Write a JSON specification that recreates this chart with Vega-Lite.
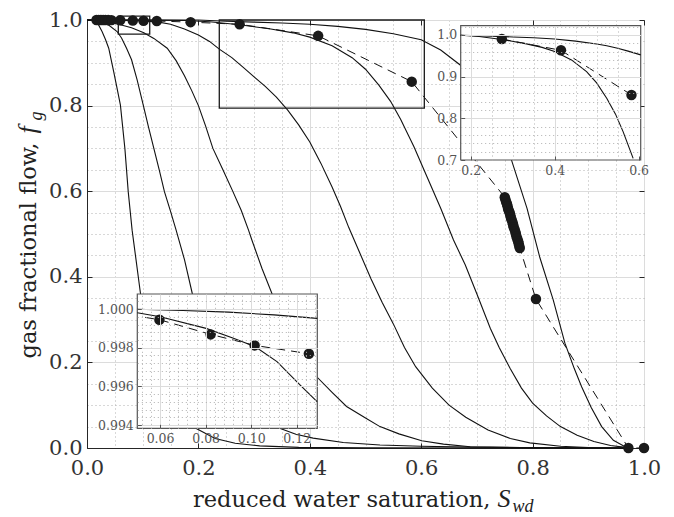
{
  "$schema": "https://vega.github.io/schema/vega-lite/v6.json",
  "width": 557,
  "height": 428,
  "autosize": "none",
  "padding": {"left": 87, "top": 20, "right": 30, "bottom": 69},
  "background": "white",
  "config": {
    "view": {"stroke": "#262626", "strokeWidth": 1},
    "font": "DejaVu Serif",
    "axis": {
      "labelFont": "DejaVu Serif",
      "titleFont": "DejaVu Serif",
      "labelColor": "#333333",
      "titleColor": "#222222",
      "titleFontWeight": "normal",
      "domainColor": "#262626",
      "tickColor": "#262626",
      "gridColor": "#dcdcdc",
      "gridWidth": 1,
      "labelOverlap": false,
      "labelFlush": false
    }
  },
  "datasets": {
    "curves": [
      {"c": "A", "x": 0, "y": 1}, {"c": "A", "x": 0.008, "y": 0.9995}, {"c": "A", "x": 0.015, "y": 0.996}, {"c": "A", "x": 0.021, "y": 0.988}, {"c": "A", "x": 0.027, "y": 0.973}, {"c": "A", "x": 0.033, "y": 0.955}, {"c": "A", "x": 0.039, "y": 0.934}, {"c": "A", "x": 0.048, "y": 0.879}, {"c": "A", "x": 0.054, "y": 0.84}, {"c": "A", "x": 0.06, "y": 0.801}, {"c": "A", "x": 0.068, "y": 0.7}, {"c": "A", "x": 0.074, "y": 0.599}, {"c": "A", "x": 0.081, "y": 0.509}, {"c": "A", "x": 0.088, "y": 0.44}, {"c": "A", "x": 0.096, "y": 0.361}, {"c": "A", "x": 0.11, "y": 0.26}, {"c": "A", "x": 0.13, "y": 0.17}, {"c": "A", "x": 0.155, "y": 0.1}, {"c": "A", "x": 0.175, "y": 0.068}, {"c": "A", "x": 0.197, "y": 0.045}, {"c": "A", "x": 0.23, "y": 0.022}, {"c": "A", "x": 0.266, "y": 0.011}, {"c": "A", "x": 0.31, "y": 0.005}, {"c": "A", "x": 0.38, "y": 0.0015}, {"c": "A", "x": 0.5, "y": 0.0003}, {"c": "A", "x": 0.975, "y": 0},
      {"c": "B", "x": 0, "y": 1}, {"c": "B", "x": 0.01, "y": 0.9995}, {"c": "B", "x": 0.02, "y": 0.998}, {"c": "B", "x": 0.03, "y": 0.993}, {"c": "B", "x": 0.04, "y": 0.987}, {"c": "B", "x": 0.054, "y": 0.973}, {"c": "B", "x": 0.062, "y": 0.958}, {"c": "B", "x": 0.071, "y": 0.934}, {"c": "B", "x": 0.08, "y": 0.907}, {"c": "B", "x": 0.09, "y": 0.86}, {"c": "B", "x": 0.101, "y": 0.801}, {"c": "B", "x": 0.11, "y": 0.752}, {"c": "B", "x": 0.12, "y": 0.7}, {"c": "B", "x": 0.13, "y": 0.648}, {"c": "B", "x": 0.139, "y": 0.599}, {"c": "B", "x": 0.15, "y": 0.553}, {"c": "B", "x": 0.16, "y": 0.509}, {"c": "B", "x": 0.175, "y": 0.44}, {"c": "B", "x": 0.189, "y": 0.361}, {"c": "B", "x": 0.22, "y": 0.26}, {"c": "B", "x": 0.26, "y": 0.16}, {"c": "B", "x": 0.3, "y": 0.095}, {"c": "B", "x": 0.346, "y": 0.046}, {"c": "B", "x": 0.375, "y": 0.032}, {"c": "B", "x": 0.406, "y": 0.023}, {"c": "B", "x": 0.46, "y": 0.013}, {"c": "B", "x": 0.526, "y": 0.007}, {"c": "B", "x": 0.6, "y": 0.004}, {"c": "B", "x": 0.688, "y": 0.002}, {"c": "B", "x": 0.8, "y": 0.0008}, {"c": "B", "x": 0.975, "y": 0},
      {"c": "C", "x": 0, "y": 1}, {"c": "C", "x": 0.02, "y": 0.999}, {"c": "C", "x": 0.04, "y": 0.995}, {"c": "C", "x": 0.06, "y": 0.989}, {"c": "C", "x": 0.08, "y": 0.982}, {"c": "C", "x": 0.102, "y": 0.97}, {"c": "C", "x": 0.12, "y": 0.957}, {"c": "C", "x": 0.144, "y": 0.934}, {"c": "C", "x": 0.16, "y": 0.905}, {"c": "C", "x": 0.175, "y": 0.87}, {"c": "C", "x": 0.188, "y": 0.835}, {"c": "C", "x": 0.2, "y": 0.8}, {"c": "C", "x": 0.213, "y": 0.752}, {"c": "C", "x": 0.226, "y": 0.7}, {"c": "C", "x": 0.244, "y": 0.65}, {"c": "C", "x": 0.262, "y": 0.599}, {"c": "C", "x": 0.277, "y": 0.555}, {"c": "C", "x": 0.29, "y": 0.509}, {"c": "C", "x": 0.296, "y": 0.486}, {"c": "C", "x": 0.314, "y": 0.42}, {"c": "C", "x": 0.332, "y": 0.361}, {"c": "C", "x": 0.37, "y": 0.26}, {"c": "C", "x": 0.412, "y": 0.167}, {"c": "C", "x": 0.44, "y": 0.13}, {"c": "C", "x": 0.466, "y": 0.097}, {"c": "C", "x": 0.5, "y": 0.07}, {"c": "C", "x": 0.526, "y": 0.05}, {"c": "C", "x": 0.56, "y": 0.033}, {"c": "C", "x": 0.601, "y": 0.017}, {"c": "C", "x": 0.64, "y": 0.009}, {"c": "C", "x": 0.688, "y": 0.003}, {"c": "C", "x": 0.8, "y": 0.0007}, {"c": "C", "x": 0.975, "y": 0},
      {"c": "D", "x": 0, "y": 1}, {"c": "D", "x": 0.05, "y": 0.9995}, {"c": "D", "x": 0.1, "y": 0.998}, {"c": "D", "x": 0.129, "y": 0.995}, {"c": "D", "x": 0.15, "y": 0.99}, {"c": "D", "x": 0.175, "y": 0.979}, {"c": "D", "x": 0.2, "y": 0.965}, {"c": "D", "x": 0.22, "y": 0.95}, {"c": "D", "x": 0.2375, "y": 0.932}, {"c": "D", "x": 0.26, "y": 0.912}, {"c": "D", "x": 0.28, "y": 0.89}, {"c": "D", "x": 0.3, "y": 0.867}, {"c": "D", "x": 0.32, "y": 0.845}, {"c": "D", "x": 0.34, "y": 0.82}, {"c": "D", "x": 0.36, "y": 0.79}, {"c": "D", "x": 0.38, "y": 0.755}, {"c": "D", "x": 0.4, "y": 0.715}, {"c": "D", "x": 0.42, "y": 0.665}, {"c": "D", "x": 0.44, "y": 0.61}, {"c": "D", "x": 0.455, "y": 0.565}, {"c": "D", "x": 0.47, "y": 0.515}, {"c": "D", "x": 0.49, "y": 0.455}, {"c": "D", "x": 0.51, "y": 0.395}, {"c": "D", "x": 0.53, "y": 0.34}, {"c": "D", "x": 0.55, "y": 0.29}, {"c": "D", "x": 0.57, "y": 0.235}, {"c": "D", "x": 0.59, "y": 0.19}, {"c": "D", "x": 0.62, "y": 0.14}, {"c": "D", "x": 0.65, "y": 0.1}, {"c": "D", "x": 0.68, "y": 0.072}, {"c": "D", "x": 0.72, "y": 0.042}, {"c": "D", "x": 0.76, "y": 0.022}, {"c": "D", "x": 0.795, "y": 0.012}, {"c": "D", "x": 0.85, "y": 0.004}, {"c": "D", "x": 0.9, "y": 0.001}, {"c": "D", "x": 0.975, "y": 0},
      {"c": "E", "x": 0, "y": 1}, {"c": "E", "x": 0.1, "y": 0.9998}, {"c": "E", "x": 0.176, "y": 0.999}, {"c": "E", "x": 0.22, "y": 0.996}, {"c": "E", "x": 0.274, "y": 0.989}, {"c": "E", "x": 0.33, "y": 0.979}, {"c": "E", "x": 0.37, "y": 0.97}, {"c": "E", "x": 0.4, "y": 0.96}, {"c": "E", "x": 0.44, "y": 0.94}, {"c": "E", "x": 0.476, "y": 0.912}, {"c": "E", "x": 0.5, "y": 0.885}, {"c": "E", "x": 0.524, "y": 0.848}, {"c": "E", "x": 0.545, "y": 0.81}, {"c": "E", "x": 0.563, "y": 0.768}, {"c": "E", "x": 0.587, "y": 0.704}, {"c": "E", "x": 0.61, "y": 0.635}, {"c": "E", "x": 0.635, "y": 0.56}, {"c": "E", "x": 0.658, "y": 0.486}, {"c": "E", "x": 0.679, "y": 0.428}, {"c": "E", "x": 0.7, "y": 0.36}, {"c": "E", "x": 0.724, "y": 0.28}, {"c": "E", "x": 0.74, "y": 0.235}, {"c": "E", "x": 0.76, "y": 0.185}, {"c": "E", "x": 0.78, "y": 0.14}, {"c": "E", "x": 0.8, "y": 0.105}, {"c": "E", "x": 0.825, "y": 0.075}, {"c": "E", "x": 0.85, "y": 0.05}, {"c": "E", "x": 0.88, "y": 0.03}, {"c": "E", "x": 0.91, "y": 0.015}, {"c": "E", "x": 0.94, "y": 0.006}, {"c": "E", "x": 0.963, "y": 0.002}, {"c": "E", "x": 0.975, "y": 0},
      {"c": "F", "x": 0, "y": 1}, {"c": "F", "x": 0.2, "y": 0.9999}, {"c": "F", "x": 0.25, "y": 0.997}, {"c": "F", "x": 0.3, "y": 0.995}, {"c": "F", "x": 0.35, "y": 0.993}, {"c": "F", "x": 0.4, "y": 0.99}, {"c": "F", "x": 0.45, "y": 0.985}, {"c": "F", "x": 0.5, "y": 0.978}, {"c": "F", "x": 0.55, "y": 0.968}, {"c": "F", "x": 0.6, "y": 0.954}, {"c": "F", "x": 0.635, "y": 0.93}, {"c": "F", "x": 0.67, "y": 0.895}, {"c": "F", "x": 0.7, "y": 0.84}, {"c": "F", "x": 0.73, "y": 0.77}, {"c": "F", "x": 0.762, "y": 0.673}, {"c": "F", "x": 0.79, "y": 0.56}, {"c": "F", "x": 0.813, "y": 0.445}, {"c": "F", "x": 0.837, "y": 0.346}, {"c": "F", "x": 0.858, "y": 0.245}, {"c": "F", "x": 0.875, "y": 0.185}, {"c": "F", "x": 0.888, "y": 0.143}, {"c": "F", "x": 0.905, "y": 0.095}, {"c": "F", "x": 0.924, "y": 0.05}, {"c": "F", "x": 0.945, "y": 0.018}, {"c": "F", "x": 0.966, "y": 0.003}, {"c": "F", "x": 0.975, "y": 0}
    ],
    "path": [
      {"x": 0.017, "y": 1.0}, {"x": 0.021, "y": 1.0}, {"x": 0.025, "y": 1.0}, {"x": 0.029, "y": 0.9999}, {"x": 0.033, "y": 0.9999}, {"x": 0.038, "y": 0.9998}, {"x": 0.044, "y": 0.9997},
      {"x": 0.0597, "y": 0.99945}, {"x": 0.0822, "y": 0.99869}, {"x": 0.1015, "y": 0.99812}, {"x": 0.1253, "y": 0.99769},
      {"x": 0.186, "y": 0.995}, {"x": 0.274, "y": 0.99}, {"x": 0.415, "y": 0.963}, {"x": 0.583, "y": 0.856},
      {"x": 0.75, "y": 0.586}, {"x": 0.751, "y": 0.581}, {"x": 0.7525, "y": 0.575}, {"x": 0.754, "y": 0.57}, {"x": 0.755, "y": 0.565}, {"x": 0.756, "y": 0.559}, {"x": 0.7575, "y": 0.554}, {"x": 0.759, "y": 0.549}, {"x": 0.76, "y": 0.544}, {"x": 0.761, "y": 0.538}, {"x": 0.7625, "y": 0.533}, {"x": 0.764, "y": 0.527}, {"x": 0.765, "y": 0.522}, {"x": 0.766, "y": 0.516}, {"x": 0.7675, "y": 0.511}, {"x": 0.769, "y": 0.505}, {"x": 0.77, "y": 0.5}, {"x": 0.771, "y": 0.494}, {"x": 0.7725, "y": 0.489}, {"x": 0.774, "y": 0.483}, {"x": 0.775, "y": 0.478}, {"x": 0.776, "y": 0.472}, {"x": 0.777, "y": 0.467},
      {"x": 0.806, "y": 0.348}, {"x": 0.972, "y": 0.0}, {"x": 1.0, "y": 0.0}
    ],
    "boxes": [
      {"x1": 0.0562, "x2": 0.1126, "y1": 0.967, "y2": 1.009},
      {"x1": 0.2375, "x2": 0.6056, "y1": 0.794, "y2": 1.0}
    ],
    "in1frame": [{"x1": 0.176, "x2": 0.605, "y1": 0.7, "y2": 1.022}],
    "in1curves": [
      {"c": "E", "x": 0.176, "y": 0.999}, {"c": "E", "x": 0.22, "y": 0.996}, {"c": "E", "x": 0.274, "y": 0.989}, {"c": "E", "x": 0.33, "y": 0.979}, {"c": "E", "x": 0.37, "y": 0.97}, {"c": "E", "x": 0.4, "y": 0.96}, {"c": "E", "x": 0.44, "y": 0.94}, {"c": "E", "x": 0.476, "y": 0.912}, {"c": "E", "x": 0.5, "y": 0.885}, {"c": "E", "x": 0.524, "y": 0.848}, {"c": "E", "x": 0.545, "y": 0.81}, {"c": "E", "x": 0.563, "y": 0.768}, {"c": "E", "x": 0.587, "y": 0.704},
      {"c": "F", "x": 0.176, "y": 0.999}, {"c": "F", "x": 0.25, "y": 0.997}, {"c": "F", "x": 0.3, "y": 0.995}, {"c": "F", "x": 0.35, "y": 0.993}, {"c": "F", "x": 0.4, "y": 0.99}, {"c": "F", "x": 0.45, "y": 0.985}, {"c": "F", "x": 0.5, "y": 0.978}, {"c": "F", "x": 0.524, "y": 0.974}, {"c": "F", "x": 0.55, "y": 0.968}, {"c": "F", "x": 0.575, "y": 0.961}, {"c": "F", "x": 0.605, "y": 0.952}
    ],
    "in1path": [{"x": 0.274, "y": 0.99}, {"x": 0.415, "y": 0.963}, {"x": 0.583, "y": 0.856}],
    "in2frame": [{"x1": 0.05, "x2": 0.129, "y1": 0.99383, "y2": 1.00078}],
    "in2curves": [
      {"c": "T", "x": 0.05, "y": 0.99999}, {"c": "T", "x": 0.07, "y": 0.99993}, {"c": "T", "x": 0.09, "y": 0.99984}, {"c": "T", "x": 0.11, "y": 0.9997}, {"c": "T", "x": 0.129, "y": 0.99952},
      {"c": "S", "x": 0.05, "y": 0.99981}, {"c": "S", "x": 0.06, "y": 0.9996}, {"c": "S", "x": 0.0802, "y": 0.999}, {"c": "S", "x": 0.0922, "y": 0.99849}, {"c": "S", "x": 0.1018, "y": 0.99805}, {"c": "S", "x": 0.1113, "y": 0.99728}, {"c": "S", "x": 0.1215, "y": 0.99607}, {"c": "S", "x": 0.1289, "y": 0.99521}
    ],
    "in2path": [{"x": 0.0534, "y": 0.99957}, {"x": 0.0597, "y": 0.99945}, {"x": 0.0822, "y": 0.99869}, {"x": 0.1015, "y": 0.99812}, {"x": 0.1253, "y": 0.99769}, {"x": 0.129, "y": 0.99757}],
    "in2pts": [{"x": 0.0597, "y": 0.99945}, {"x": 0.0822, "y": 0.99869}, {"x": 0.1015, "y": 0.99812}, {"x": 0.1253, "y": 0.99769}]
  },
  "layer": [
    {
      "data": {"name": "curves"},
      "mark": {"type": "line", "color": "#111111", "strokeWidth": 1.1},
      "encoding": {
        "x": {"field": "x", "type": "quantitative", "scale": {"domain": [0, 1], "nice": false, "zero": false},
          "axis": {"orient": "bottom", "values": [0, 0.2, 0.4, 0.6, 0.8, 1.0], "format": ".1f", "labelFontSize": 21, "labelPadding": 14, "tickSize": -5, "grid": true,
            "title": "reduced water saturation,", "titleFontSize": 22.5, "titleAlign": "right", "titleBaseline": "alphabetic", "titleX": 403, "titleY": 58, "titleAngle": 0}},
        "y": {"field": "y", "type": "quantitative", "scale": {"domain": [0, 1], "nice": false, "zero": false},
          "axis": {"orient": "left", "values": [0, 0.2, 0.4, 0.6, 0.8, 1.0], "format": ".1f", "labelFontSize": 21, "labelPadding": 10, "tickSize": -5, "grid": true,
            "title": "gas fractional flow,", "titleFontSize": 22.5, "titleAlign": "right", "titleBaseline": "alphabetic", "titleX": -52, "titleY": 122, "titleAngle": 270}},
        "detail": {"field": "c"}
      }
    },
    {
      "data": {"name": "path"},
      "mark": {"type": "line", "color": "#111111", "strokeWidth": 1, "strokeDash": [9, 6]},
      "encoding": {
        "x": {"field": "x", "type": "quantitative", "scale": {"domain": [0, 1], "nice": false, "zero": false},
          "axis": {"orient": "bottom", "values": [0.05, 0.1, 0.15, 0.25, 0.3, 0.35, 0.45, 0.5, 0.55, 0.65, 0.7, 0.75, 0.85, 0.9, 0.95], "labels": false, "ticks": false, "domain": false, "grid": true, "gridDash": [1, 3], "gridColor": "#b0b0b0",
            "title": "S", "titleFont": "Liberation Serif", "titleFontSize": 26, "titleFontStyle": "italic", "titleAlign": "left", "titleBaseline": "alphabetic", "titleX": 410, "titleY": 58, "titleAngle": 0}},
        "y": {"field": "y", "type": "quantitative", "scale": {"domain": [0, 1], "nice": false, "zero": false},
          "axis": {"orient": "left", "values": [0.05, 0.1, 0.15, 0.25, 0.3, 0.35, 0.45, 0.5, 0.55, 0.65, 0.7, 0.75, 0.85, 0.9, 0.95], "labels": false, "ticks": false, "domain": false, "grid": true, "gridDash": [1, 3], "gridColor": "#b0b0b0",
            "title": "f", "titleFont": "Liberation Serif", "titleFontSize": 26, "titleFontStyle": "italic", "titleAlign": "left", "titleBaseline": "alphabetic", "titleX": -52, "titleY": 113, "titleAngle": 270}}
      }
    },
    {
      "data": {"name": "path"},
      "mark": {"type": "point", "filled": true, "size": 110, "color": "#1a1a1a", "opacity": 1},
      "encoding": {
        "x": {"field": "x", "type": "quantitative", "scale": {"domain": [0, 1], "nice": false, "zero": false},
          "axis": {"orient": "top", "values": [0, 0.2, 0.4, 0.6, 0.8, 1.0], "labels": false, "tickSize": -5, "domain": false, "grid": false, "title": null}},
        "y": {"field": "y", "type": "quantitative", "scale": {"domain": [0, 1], "nice": false, "zero": false},
          "axis": {"orient": "right", "values": [0, 0.2, 0.4, 0.6, 0.8, 1.0], "labels": false, "tickSize": -5, "domain": false, "grid": false, "title": null}}
      }
    },
    {
      "data": {"name": "boxes"},
      "mark": {"type": "rect", "filled": false, "stroke": "#1a1a1a", "strokeWidth": 1.3},
      "encoding": {
        "x": {"field": "x1", "type": "quantitative", "scale": {"domain": [0, 1], "nice": false, "zero": false},
          "axis": {"orient": "bottom", "labels": false, "ticks": false, "domain": false, "grid": false, "values": [],
            "title": "wd", "titleFont": "Liberation Serif", "titleFontSize": 18, "titleFontStyle": "italic", "titleAlign": "left", "titleBaseline": "alphabetic", "titleX": 425, "titleY": 63, "titleAngle": 0}},
        "x2": {"field": "x2"},
        "y": {"field": "y1", "type": "quantitative", "scale": {"domain": [0, 1], "nice": false, "zero": false},
          "axis": {"orient": "left", "labels": false, "ticks": false, "domain": false, "grid": false, "values": [],
            "title": "g", "titleFont": "Liberation Serif", "titleFontSize": 18, "titleFontStyle": "italic", "titleAlign": "left", "titleBaseline": "alphabetic", "titleX": -46, "titleY": 100, "titleAngle": 270}},
        "y2": {"field": "y2"}
      }
    },
    {
      "data": {"name": "in1frame"},
      "mark": {"type": "rect", "fill": "white", "stroke": "#555555", "strokeWidth": 1.2},
      "encoding": {
        "x": {"field": "x1", "type": "quantitative", "scale": {"domain": [0.176, 0.605], "range": [373.7, 553.7], "nice": false, "zero": false},
          "axis": {"orient": "bottom", "offset": -288, "values": [0.2, 0.4, 0.6], "format": ".1f", "labelFontSize": 12.5, "labelColor": "#555555", "labelPadding": 8, "tickSize": -4, "tickColor": "#555555", "domain": false, "grid": false, "zindex": 1, "title": null}},
        "x2": {"field": "x2"},
        "y": {"field": "y1", "type": "quantitative", "scale": {"domain": [0.7, 1.022], "range": [140, 5.7], "nice": false, "zero": false},
          "axis": {"orient": "left", "offset": -373.7, "values": [0.7, 0.8, 0.9, 1.0], "format": ".1f", "labelFontSize": 12.5, "labelColor": "#555555", "labelPadding": 8, "tickSize": -4, "tickColor": "#555555", "domain": false, "grid": false, "zindex": 1, "title": null}},
        "y2": {"field": "y2"}
      }
    },
    {
      "data": {"name": "in1curves"},
      "mark": {"type": "line", "color": "#111111", "strokeWidth": 1.1},
      "encoding": {
        "x": {"field": "x", "type": "quantitative", "scale": {"domain": [0.176, 0.605], "range": [373.7, 553.7], "nice": false, "zero": false},
          "axis": {"orient": "top", "offset": 0, "values": [0.2, 0.4], "labels": false, "ticks": false, "domain": false, "grid": true, "gridColor": "#dcdcdc", "zindex": 1, "title": null}},
        "y": {"field": "y", "type": "quantitative", "scale": {"domain": [0.7, 1.022], "range": [140, 5.7], "nice": false, "zero": false},
          "axis": {"orient": "left", "offset": 0, "values": [0.8, 0.9, 1.0], "labels": false, "ticks": false, "domain": false, "grid": true, "gridColor": "#dcdcdc", "zindex": 1, "title": null}},
        "detail": {"field": "c"}
      }
    },
    {
      "data": {"name": "in1path"},
      "mark": {"type": "line", "color": "#111111", "strokeWidth": 1, "strokeDash": [9, 6]},
      "encoding": {
        "x": {"field": "x", "type": "quantitative", "scale": {"domain": [0.176, 0.605], "range": [373.7, 553.7], "nice": false, "zero": false},
          "axis": {"orient": "top", "offset": 0, "values": [0.25, 0.3, 0.35, 0.45, 0.5, 0.55], "labels": false, "ticks": false, "domain": false, "grid": true, "gridDash": [1, 3], "gridColor": "#b0b0b0", "zindex": 1, "title": null}},
        "y": {"field": "y", "type": "quantitative", "scale": {"domain": [0.7, 1.022], "range": [140, 5.7], "nice": false, "zero": false},
          "axis": {"orient": "left", "offset": 0, "values": [0.72, 0.74, 0.76, 0.78, 0.82, 0.84, 0.86, 0.88, 0.92, 0.94, 0.96, 0.98, 1.02], "labels": false, "ticks": false, "domain": false, "grid": true, "gridDash": [1, 3], "gridColor": "#b0b0b0", "zindex": 1, "title": null}}
      }
    },
    {
      "data": {"name": "in1path"},
      "mark": {"type": "point", "filled": true, "size": 110, "color": "#1a1a1a", "opacity": 1},
      "encoding": {
        "x": {"field": "x", "type": "quantitative", "scale": {"domain": [0.176, 0.605], "range": [373.7, 553.7], "nice": false, "zero": false}, "axis": null},
        "y": {"field": "y", "type": "quantitative", "scale": {"domain": [0.7, 1.022], "range": [140, 5.7], "nice": false, "zero": false}, "axis": null}
      }
    },
    {
      "data": {"name": "in2frame"},
      "mark": {"type": "rect", "fill": "white", "stroke": "#555555", "strokeWidth": 1.2},
      "encoding": {
        "x": {"field": "x1", "type": "quantitative", "scale": {"domain": [0.05, 0.129], "range": [50.3, 230.3], "nice": false, "zero": false},
          "axis": {"orient": "bottom", "offset": -19.7, "values": [0.06, 0.08, 0.1, 0.12], "format": ".2f", "labelFontSize": 12.5, "labelColor": "#555555", "labelPadding": 8, "tickSize": -4, "tickColor": "#555555", "domain": false, "grid": false, "zindex": 1, "title": null}},
        "x2": {"field": "x2"},
        "y": {"field": "y1", "type": "quantitative", "scale": {"domain": [0.99383, 1.00078], "range": [408.3, 274], "nice": false, "zero": false},
          "axis": {"orient": "left", "offset": -50.3, "values": [0.994, 0.996, 0.998, 1.0], "format": ".3f", "labelFontSize": 12.5, "labelColor": "#555555", "labelPadding": 8, "tickSize": -4, "tickColor": "#555555", "domain": false, "grid": false, "zindex": 1, "title": null}},
        "y2": {"field": "y2"}
      }
    },
    {
      "data": {"name": "in2curves"},
      "mark": {"type": "line", "color": "#111111", "strokeWidth": 1.1},
      "encoding": {
        "x": {"field": "x", "type": "quantitative", "scale": {"domain": [0.05, 0.129], "range": [50.3, 230.3], "nice": false, "zero": false},
          "axis": {"orient": "top", "offset": 0, "values": [0.06, 0.08, 0.1, 0.12], "labels": false, "ticks": false, "domain": false, "grid": true, "gridColor": "#dcdcdc", "zindex": 1, "title": null}},
        "y": {"field": "y", "type": "quantitative", "scale": {"domain": [0.99383, 1.00078], "range": [408.3, 274], "nice": false, "zero": false},
          "axis": {"orient": "left", "offset": 0, "values": [0.994, 0.996, 0.998, 1.0], "labels": false, "ticks": false, "domain": false, "grid": true, "gridColor": "#dcdcdc", "zindex": 1, "title": null}},
        "detail": {"field": "c"}
      }
    },
    {
      "data": {"name": "in2path"},
      "mark": {"type": "line", "color": "#111111", "strokeWidth": 1, "strokeDash": [9, 6]},
      "encoding": {
        "x": {"field": "x", "type": "quantitative", "scale": {"domain": [0.05, 0.129], "range": [50.3, 230.3], "nice": false, "zero": false},
          "axis": {"orient": "top", "offset": 0, "values": [0.052, 0.056, 0.064, 0.068, 0.072, 0.076, 0.084, 0.088, 0.092, 0.096, 0.104, 0.108, 0.112, 0.116, 0.124, 0.128], "labels": false, "ticks": false, "domain": false, "grid": true, "gridDash": [1, 3], "gridColor": "#b0b0b0", "zindex": 1, "title": null}},
        "y": {"field": "y", "type": "quantitative", "scale": {"domain": [0.99383, 1.00078], "range": [408.3, 274], "nice": false, "zero": false},
          "axis": {"orient": "left", "offset": 0, "values": [0.9944, 0.9948, 0.9952, 0.9956, 0.9964, 0.9968, 0.9972, 0.9976, 0.9984, 0.9988, 0.9992, 0.9996, 1.0004], "labels": false, "ticks": false, "domain": false, "grid": true, "gridDash": [1, 3], "gridColor": "#b0b0b0", "zindex": 1, "title": null}}
      }
    },
    {
      "data": {"name": "in2pts"},
      "mark": {"type": "point", "filled": true, "size": 110, "color": "#1a1a1a", "opacity": 1},
      "encoding": {
        "x": {"field": "x", "type": "quantitative", "scale": {"domain": [0.05, 0.129], "range": [50.3, 230.3], "nice": false, "zero": false}, "axis": null},
        "y": {"field": "y", "type": "quantitative", "scale": {"domain": [0.99383, 1.00078], "range": [408.3, 274], "nice": false, "zero": false}, "axis": null}
      }
    }
  ],
  "resolve": {"scale": {"x": "independent", "y": "independent"}}
}
